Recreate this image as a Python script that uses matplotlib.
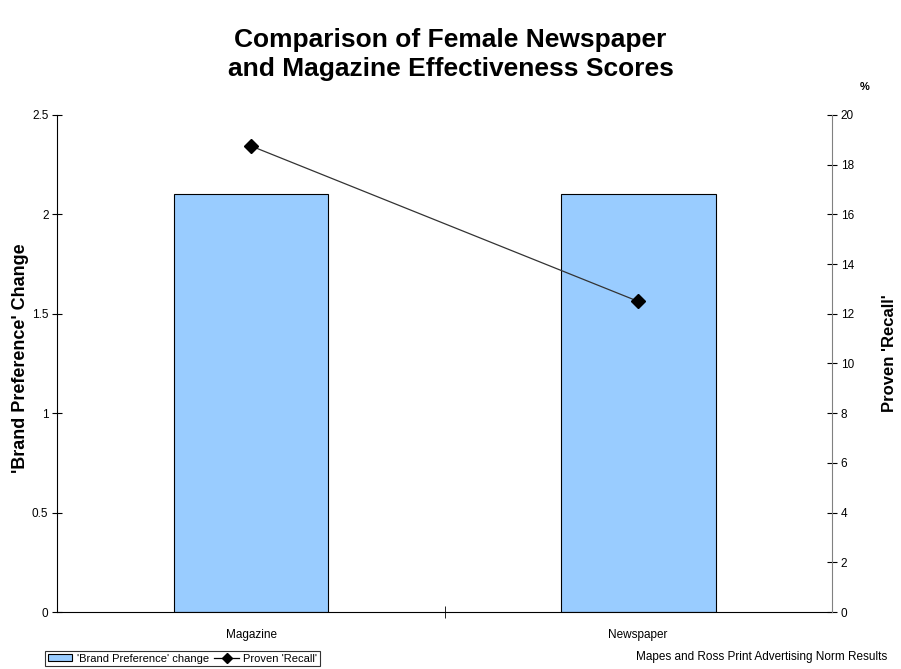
import matplotlib.pyplot as plt
from matplotlib.lines import Line2D
from matplotlib.patches import Patch

plt.rcParams['font.family'] = ['Liberation Sans', 'DejaVu Sans']

categories = ["Magazine", "Newspaper"]
brand_pref = [2.1, 2.1]
recall = [18.75, 12.5]

fig = plt.figure(figsize=(9.01, 6.69), dpi=100)
ax = fig.add_axes([0.0638, 0.0852, 0.8592, 0.743])
x = range(len(categories))

ax.bar(x, brand_pref, width=0.4, color="#99ccff", edgecolor="black", linewidth=0.8, zorder=2)
ax.set_xlim(-0.5, 1.5)
ax.set_ylim(0, 2.5)
ax.set_yticks([0, 0.5, 1, 1.5, 2, 2.5])
ax.set_yticklabels(["0", "0.5", "1", "1.5", "2", "2.5"])
ax.set_xticks(list(x))
ax.set_xticklabels(categories, fontsize=8.5)
ax.tick_params(axis="x", which="major", length=0, pad=12)
ax.set_xticks([0.5], minor=True)
ax.tick_params(axis="x", which="minor", direction="inout", length=8)
ax.tick_params(axis="y", direction="inout", length=7, labelsize=8.5, pad=3)
ax.spines["top"].set_visible(False)
ax.spines["right"].set_visible(False)
ax.set_ylabel("'Brand Preference' Change", fontsize=13, fontweight="bold")
ax.yaxis.set_label_coords(-0.037, 0.51)

ax2 = ax.twinx()
ax2.plot(x, recall, color="#333333", linewidth=0.9, marker="D", markersize=7,
         markerfacecolor="black", markeredgecolor="black", zorder=3)
ax2.set_ylim(0, 20)
ax2.set_yticks(range(0, 21, 2))
ax2.tick_params(axis="y", direction="inout", length=7, labelsize=8.5, pad=3)
ax2.spines["top"].set_visible(False)
ax2.spines["left"].set_visible(False)
ax2.spines["bottom"].set_visible(False)
ax2.spines["right"].set_color("#808080")
ax2.set_ylabel("Proven 'Recall'", fontsize=12, fontweight="bold")
ax2.yaxis.set_label_coords(1.065, 0.52)

fig.text(0.5, 0.919, "Comparison of Female Newspaper\nand Magazine Effectiveness Scores",
         ha="center", va="center", fontsize=19, fontweight="bold", linespacing=1.25)
fig.text(0.96, 0.87, "%", ha="center", va="center", fontsize=8, fontweight="bold")

handles = [Patch(facecolor="#99ccff", edgecolor="black", linewidth=0.8),
           Line2D([0], [0], color="black", linewidth=0.9, marker="D", markersize=5)]
leg = fig.legend(handles, ["'Brand Preference' change", "Proven 'Recall'"],
                 loc="lower left", bbox_to_anchor=(0.05, 0.004), ncol=2,
                 fontsize=8, frameon=True, fancybox=False, handlelength=2.2,
                 handleheight=0.6, columnspacing=0.5, handletextpad=0.4,
                 borderpad=0.25, borderaxespad=0)
leg.get_frame().set_edgecolor("black")
leg.get_frame().set_linewidth(0.8)

fig.text(0.985, 0.018, "Mapes and Ross Print Advertising Norm Results",
         ha="right", va="center", fontsize=8.5)

fig.savefig("out.png", dpi=100)
